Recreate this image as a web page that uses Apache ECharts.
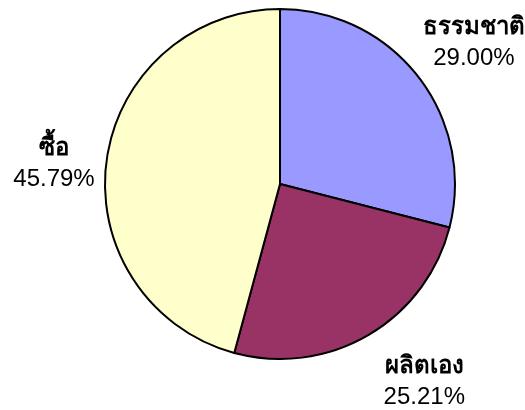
<!DOCTYPE html>
<html>
<head>
<meta charset="utf-8">
<script src="https://cdn.jsdelivr.net/npm/echarts@6/dist/echarts.min.js"></script>
<style>html,body{margin:0;padding:0;background:#fff}#c{width:525px;height:410px}</style>
</head>
<body>
<div id="c"></div>
<script>
const categories = ['ธรรมชาติ', 'ผลิตเอง', 'ซื้อ'];
const values = [29.00, 25.21, 45.79];
const colors = ['#9999FF', '#993366', '#FFFFCC'];
// offset of each label block centre from ECharts' own outside-label anchor
const labelShift = [[13, -1], [29, 0], [1, 10]];

const chart = echarts.init(document.getElementById('c'), null, {renderer: 'canvas'});
chart.setOption({
  animation: false,
  backgroundColor: '#ffffff',
  series: [{
    type: 'pie',
    center: [280, 184],
    radius: 175,
    startAngle: 90,
    clockwise: true,
    avoidLabelOverlap: false,
    data: categories.map((n, i) => ({name: n, value: values[i], itemStyle: {color: colors[i]}})),
    itemStyle: {borderColor: '#000', borderWidth: 2},
    emphasis: {disabled: true},
    label: {
      show: true,
      position: 'outside',
      alignTo: 'none',
      overflow: 'none',
      distanceToLabelLine: 0,
      formatter: p => '{n|' + p.name + '}\n{v|' + p.value.toFixed(2) + '%}',
      rich: {
        n: {fontFamily: 'Liberation Sans, Arial, sans-serif', fontWeight: 'bold', fontSize: 24, color: '#000', lineHeight: 31, align: 'center'},
        v: {fontFamily: 'Liberation Sans, Arial, sans-serif', fontSize: 24, color: '#000', lineHeight: 31, align: 'center'}
      }
    },
    labelLine: {show: false, length: 54, length2: 0},
    labelLayout: p => {
      const r = p.labelRect;
      const ax = p.align === 'right' ? r.x + r.width : (p.align === 'center' ? r.x + r.width / 2 : r.x);
      const ay = r.y + r.height / 2;
      return {
        x: ax + labelShift[p.dataIndex][0],
        y: ay + labelShift[p.dataIndex][1],
        align: 'center', verticalAlign: 'middle'
      };
    }
  }]
});
</script>
</body>
</html>
